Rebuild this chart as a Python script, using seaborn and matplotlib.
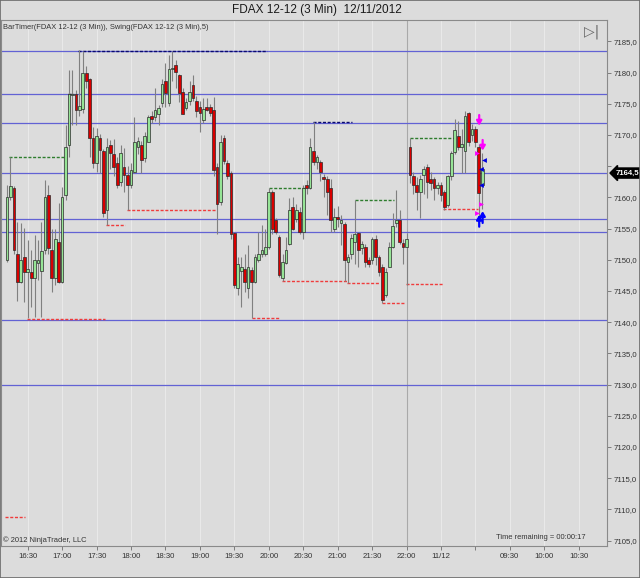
import matplotlib
matplotlib.use("Agg")
import matplotlib.pyplot as plt
import matplotlib.transforms as mtransforms
from matplotlib.patches import Rectangle
import numpy as np
import pandas as pd
import seaborn as sns

# ---------------- data (3-min bars, FDAX 12-12) ----------------
opens = [7150.0, 7160.0, 7161.5, 7151.0, 7146.5, 7150.4, 7148.0, 7148.0, 7147.0, 7149.5,
         7148.2, 7151.5, 7160.4, 7151.5, 7147.0, 7152.9, 7146.4, 7160.4, 7168.4, 7176.4,
         7176.6, 7174.0, 7174.1, 7180.0, 7178.9, 7169.5, 7165.5, 7169.5, 7167.4, 7157.9,
         7168.4, 7167.0, 7165.5, 7162.4, 7164.9, 7163.6, 7162.0, 7164.0, 7168.1, 7168.4,
         7166.3, 7168.9, 7173.0, 7172.9, 7173.4, 7175.1, 7178.6, 7175.2, 7180.6, 7181.2,
         7179.6, 7176.9, 7174.3, 7175.4, 7178.0, 7175.5, 7174.5, 7172.4, 7174.5, 7174.5,
         7174.0, 7164.9, 7159.3, 7169.5, 7165.5, 7163.9, 7154.3, 7145.4, 7148.2, 7148.5,
         7145.4, 7148.4, 7146.5, 7150.0, 7151.0, 7151.0, 7152.0, 7160.9, 7156.4, 7153.6,
         7147.0, 7149.5, 7152.5, 7158.5, 7156.6, 7157.6, 7154.5, 7162.0, 7161.5, 7167.5,
         7165.6, 7165.6, 7163.2, 7162.9, 7161.5, 7155.0, 7156.9, 7155.9, 7155.8, 7149.6,
         7151.0, 7152.8, 7154.3, 7151.9, 7152.0, 7150.0, 7149.9, 7153.4, 7150.5, 7148.9,
         7144.4, 7148.9, 7152.1, 7155.9, 7156.4, 7152.7, 7152.1, 7168.0, 7163.4, 7162.0,
         7160.9, 7163.6, 7164.9, 7162.9, 7162.9, 7161.5, 7162.0, 7160.8, 7158.8, 7163.4,
         7167.3, 7169.8, 7168.0, 7167.5, 7173.5, 7170.0, 7170.9, 7168.0, 7162.0]
highs = [7162.0, 7166.5, 7161.8, 7156.0, 7155.9, 7155.1, 7153.2, 7151.6, 7154.0, 7153.2,
         7156.1, 7162.8, 7162.0, 7155.0, 7155.0, 7159.1, 7161.7, 7171.6, 7180.4, 7180.4,
         7177.2, 7183.6, 7183.5, 7181.0, 7179.2, 7171.3, 7171.2, 7170.2, 7167.8, 7169.5,
         7169.2, 7169.3, 7166.5, 7168.4, 7167.9, 7165.0, 7165.5, 7172.9, 7169.6, 7169.0,
         7170.5, 7173.2, 7173.8, 7177.5, 7174.8, 7179.0, 7181.6, 7182.8, 7183.5, 7182.0,
         7179.8, 7177.6, 7176.0, 7178.6, 7179.6, 7176.2, 7175.5, 7176.0, 7175.9, 7175.0,
         7176.1, 7165.5, 7170.0, 7170.0, 7166.0, 7164.2, 7154.5, 7150.5, 7150.4, 7151.0,
         7152.4, 7148.9, 7151.0, 7154.5, 7155.6, 7154.9, 7161.5, 7161.2, 7156.7, 7154.0,
         7150.9, 7153.6, 7159.9, 7160.1, 7159.0, 7158.5, 7162.0, 7162.8, 7169.5, 7172.1,
         7166.8, 7166.0, 7163.8, 7163.5, 7162.9, 7158.3, 7158.6, 7157.2, 7156.0, 7151.0,
         7154.2, 7159.6, 7154.5, 7153.0, 7152.6, 7150.5, 7153.6, 7154.0, 7150.8, 7149.4,
         7148.7, 7152.9, 7157.5, 7161.2, 7158.0, 7153.3, 7154.3, 7169.5, 7164.1, 7163.3,
         7163.6, 7165.0, 7165.3, 7164.0, 7163.3, 7162.5, 7162.4, 7161.2, 7163.6, 7167.5,
         7172.5, 7172.2, 7171.0, 7173.9, 7173.7, 7171.8, 7171.4, 7168.5, 7167.1]
lows = [7149.6, 7159.6, 7151.0, 7143.4, 7146.3, 7143.3, 7140.6, 7142.5, 7140.9, 7146.8,
        7140.9, 7151.0, 7151.0, 7144.9, 7146.0, 7146.3, 7146.3, 7159.6, 7166.5, 7171.6,
        7171.6, 7173.0, 7173.6, 7177.6, 7166.5, 7164.7, 7164.0, 7163.9, 7156.9, 7155.6,
        7164.5, 7163.5, 7161.5, 7161.9, 7160.9, 7158.0, 7161.5, 7163.9, 7167.0, 7163.9,
        7165.6, 7168.9, 7172.0, 7172.3, 7171.6, 7174.5, 7174.5, 7174.6, 7178.6, 7177.5,
        7175.3, 7173.3, 7174.0, 7174.8, 7175.4, 7172.9, 7170.5, 7172.0, 7173.8, 7173.0,
        7163.5, 7154.1, 7158.8, 7165.4, 7163.0, 7153.4, 7145.4, 7144.4, 7142.5, 7144.9,
        7143.8, 7140.6, 7146.3, 7149.7, 7150.5, 7150.6, 7151.8, 7154.2, 7154.2, 7147.2,
        7146.6, 7149.3, 7152.3, 7154.7, 7156.0, 7154.2, 7153.4, 7160.5, 7161.3, 7165.2,
        7164.6, 7162.7, 7160.1, 7157.2, 7154.5, 7154.5, 7155.3, 7152.4, 7146.6, 7146.3,
        7150.2, 7149.4, 7148.9, 7151.0, 7148.9, 7148.9, 7149.3, 7149.1, 7147.4, 7143.1,
        7144.1, 7148.8, 7151.9, 7155.3, 7152.6, 7149.4, 7146.0, 7162.3, 7160.5, 7158.0,
        7156.7, 7160.6, 7159.9, 7161.2, 7159.6, 7160.5, 7159.5, 7158.0, 7158.4, 7162.8,
        7166.9, 7167.6, 7163.9, 7163.9, 7168.2, 7169.0, 7168.1, 7156.7, 7158.2]
closes = [7160.0, 7161.9, 7151.5, 7146.5, 7150.0, 7148.0, 7148.6, 7147.0, 7150.0, 7150.0,
          7151.4, 7160.0, 7151.9, 7147.0, 7153.4, 7146.4, 7160.0, 7168.0, 7176.6, 7176.6,
          7174.0, 7174.6, 7180.0, 7178.6, 7169.5, 7165.5, 7169.9, 7167.6, 7157.5, 7168.0,
          7167.1, 7164.9, 7162.0, 7167.1, 7163.6, 7162.0, 7164.4, 7168.9, 7169.1, 7166.0,
          7169.9, 7172.9, 7172.5, 7174.0, 7174.4, 7178.2, 7176.7, 7180.6, 7180.8, 7180.1,
          7176.7, 7173.4, 7175.3, 7176.9, 7176.0, 7173.9, 7173.5, 7174.1, 7174.0, 7173.6,
          7164.4, 7158.9, 7168.9, 7165.9, 7163.4, 7154.1, 7145.9, 7149.4, 7148.8, 7146.5,
          7148.9, 7146.4, 7150.4, 7151.0, 7151.6, 7152.0, 7160.9, 7154.9, 7154.5, 7147.6,
          7149.6, 7151.5, 7158.0, 7155.0, 7157.9, 7154.5, 7161.5, 7161.5, 7168.0, 7165.6,
          7166.5, 7164.1, 7162.9, 7160.9, 7156.4, 7156.9, 7156.5, 7156.3, 7150.0, 7150.5,
          7153.5, 7154.2, 7151.6, 7152.5, 7149.6, 7149.4, 7153.4, 7150.5, 7148.0, 7143.6,
          7148.0, 7152.1, 7155.4, 7156.4, 7152.9, 7152.1, 7153.4, 7163.6, 7162.0, 7160.9,
          7162.9, 7164.5, 7162.4, 7162.3, 7161.5, 7162.0, 7160.4, 7158.4, 7163.4, 7167.1,
          7170.8, 7168.0, 7168.5, 7173.0, 7168.9, 7170.9, 7168.9, 7160.7, 7164.5]

tick_bars = [6, 16, 26, 36, 46, 56, 66, 76, 86, 96, 106, 116, 126, 136, 146, 156, 166]
tick_labels = ['16:30', '17:00', '17:30', '18:00', '18:30', '19:00', '19:30', '20:00',
               '20:30', '21:00', '21:30', '22:00', '11/12', '', '09:30', '10:00', '10:30']
price_ticks = [7105, 7110, 7115, 7120, 7125, 7130, 7135, 7140, 7145, 7150, 7155, 7160,
               7165, 7170, 7175, 7180, 7185]

level_lines = [7183.5, 7176.6, 7172.0, 7163.9, 7156.5, 7154.4, 7140.4, 7129.9]

swing_price = [7166.5, 7183.5, 7176.6, 7155.6, 7158.0, 7140.5, 7140.6, 7161.5, 7172.1,
               7146.6, 7146.2, 7159.6, 7143.0, 7146.1, 7169.5, 7158.1, 7108.8]
swing_from = [0.7, 20.7, 17.6, 28.6, 34.8, 5.8, 71.0, 76.0, 88.7, 79.9, 98.8, 100.9,
              108.9, 115.9, 117.0, 126.7, -0.6]
swing_to = [16.5, 75.6, 19.3, 34.4, 60.6, 28.4, 79.2, 86.4, 100.3, 98.6, 108.4, 112.3,
            115.4, 126.7, 129.7, 136.8, 5.2]
swing_kind = ['high', 'top', 'mark', 'low', 'low', 'low', 'low', 'high', 'top',
              'low', 'low', 'high', 'low', 'low', 'high', 'low', 'low']

last_price = 7164.5
session_break = 116.2

down_arrow_bar = [137.1, 138.1]
down_arrow_from = [7173.2, 7169.2]
down_arrow_to = [7171.5, 7167.5]
up_arrow_bar = [137.1, 138.1]
up_arrow_from = [7155.3, 7155.9]
up_arrow_to = [7157.2, 7157.8]
pink_tri_bar = [136.5, 137.6, 136.5]
pink_tri_price = [7167.1, 7159.0, 7157.5]
blue_tri_bar = [138.6, 137.6, 137.6]
blue_tri_price = [7166.0, 7164.6, 7162.0]

# ---------------- style ----------------
sns.set_theme(style="white")
plt.rcParams['font.family'] = ['Liberation Sans', 'DejaVu Sans']
BG = '#DCDCDC'
TXT = '#333333'

fig = plt.figure(figsize=(6.4, 5.78), dpi=100, facecolor=BG)
ax = fig.add_axes([0.0016, 0.0554, 0.9468, 0.9100], facecolor=BG)

df = pd.DataFrame(dict(o=opens, h=highs, l=lows, c=closes))
df['i'] = np.arange(len(df))
up = (df.c >= df.o).to_numpy()

# vertical grid and session break
for t in tick_bars:
    ax.axvline(t, color='#E9E9E9', lw=0.8, zorder=0)
ax.axvline(session_break, color='#A9A9A9', lw=0.8, zorder=0)

# horizontal level lines
for lv in level_lines:
    ax.axhline(lv, color='#6262D4', lw=0.9, zorder=1)

# swing lines
kind_color = {'high': '#2E7D2E', 'top': '#0A0A6E', 'mark': '#111111', 'low': '#F03C3C'}
for p, a, b, k in zip(swing_price, swing_from, swing_to, swing_kind):
    ax.hlines(p, a, b, colors=kind_color[k], linestyles=(0, (2.2, 1.2)), lw=1.0, zorder=2)

# candles
ax.vlines(df.i, df.l, df.h, color='#808080', lw=0.8, zorder=3)
body_bottom = np.minimum(df.o, df.c)
body_h = np.maximum(np.abs(df.c - df.o), 0.15)
colors = np.where(up, '#96E496', '#D80000')
ax.bar(df.i, body_h, bottom=body_bottom, width=0.8, color=colors,
       edgecolor='#2A2A2A', linewidth=0.5, zorder=4)

# signal markers on the live bars
arrow_style = '-|>,head_width=0.13,head_length=0.22'
for xb, y0, y1 in zip(down_arrow_bar, down_arrow_from, down_arrow_to):
    ax.annotate('', xy=(xb, y1), xytext=(xb, y0),
                arrowprops=dict(arrowstyle=arrow_style, color='#FF00FF', lw=1.6,
                                shrinkA=0, shrinkB=0), zorder=6)
for xb, y0, y1 in zip(up_arrow_bar, up_arrow_from, up_arrow_to):
    ax.annotate('', xy=(xb, y1), xytext=(xb, y0),
                arrowprops=dict(arrowstyle=arrow_style, color='#0000FF', lw=1.6,
                                shrinkA=0, shrinkB=0), zorder=6)
sns.scatterplot(x=pink_tri_bar, y=pink_tri_price, marker='>', color='#FF00FF',
                s=12, linewidth=0, ax=ax, zorder=6)
sns.scatterplot(x=blue_tri_bar, y=blue_tri_price, marker='<', color='#0000DD',
                s=12, linewidth=0, ax=ax, zorder=6)

# axes
ax.set_xlim(-1.74, 174.2)
ax.set_ylim(7104.13, 7188.43)
ax.set_xticks(tick_bars)
ax.set_xticklabels(tick_labels)
ax.yaxis.tick_right()
ax.set_yticks(price_ticks)
ax.set_yticklabels(['' if v == 7165 else f"{v:.1f}".replace('.', ',') for v in price_ticks])
ax.tick_params(axis='x', length=3, width=0.6, color='#6E6E6E', labelsize=5.6,
               labelcolor=TXT, pad=2, bottom=True)
ax.tick_params(axis='y', length=3, width=0.6, color='#6E6E6E', labelsize=5.6,
               labelcolor=TXT, pad=1.5, right=True, left=False)
ax.grid(False)
for s in ax.spines.values():
    s.set_color('#8A8A8A')
    s.set_linewidth(0.8)

# texts
fig.text(0.495, 1 - 10 / 578, 'FDAX 12-12 (3 Min)  12/11/2012', ha='center', va='center',
         fontsize=8.5, color='#1A1A1A')
ax.text(0.003, 0.985, 'BarTimer(FDAX 12-12 (3 Min)), Swing(FDAX 12-12 (3 Min),5)',
        transform=ax.transAxes, ha='left', va='center', fontsize=5.4, color=TXT)
ax.text(0.975, 0.977, '\u25b7|', transform=ax.transAxes, ha='center', va='center',
        fontsize=10, color='#666666', family='DejaVu Sans')
ax.text(0.003, 0.012, '\u00a9 2012 NinjaTrader, LLC', transform=ax.transAxes,
        ha='left', va='center', fontsize=5.4, color=TXT)
ax.text(0.964, 0.016, 'Time remaining = 00:00:17', transform=ax.transAxes,
        ha='right', va='center', fontsize=5.4, color=TXT)

trans = mtransforms.blended_transform_factory(ax.transAxes, ax.transData)
ax.text(1.014, level_lines[3], f"{last_price:.1f}".replace('.', ','), transform=trans,
        ha='left', va='center', fontsize=5.6, color='white', weight='bold',
        bbox=dict(boxstyle='larrow,pad=0.2', fc='black', ec='black'), zorder=10,
        clip_on=False)

fig.patches.append(Rectangle((0, 0), 1, 1, transform=fig.transFigure, fill=False,
                             ec='#6A6A6A', lw=1.2))

fig.savefig('out.png', dpi=100, facecolor=BG)
